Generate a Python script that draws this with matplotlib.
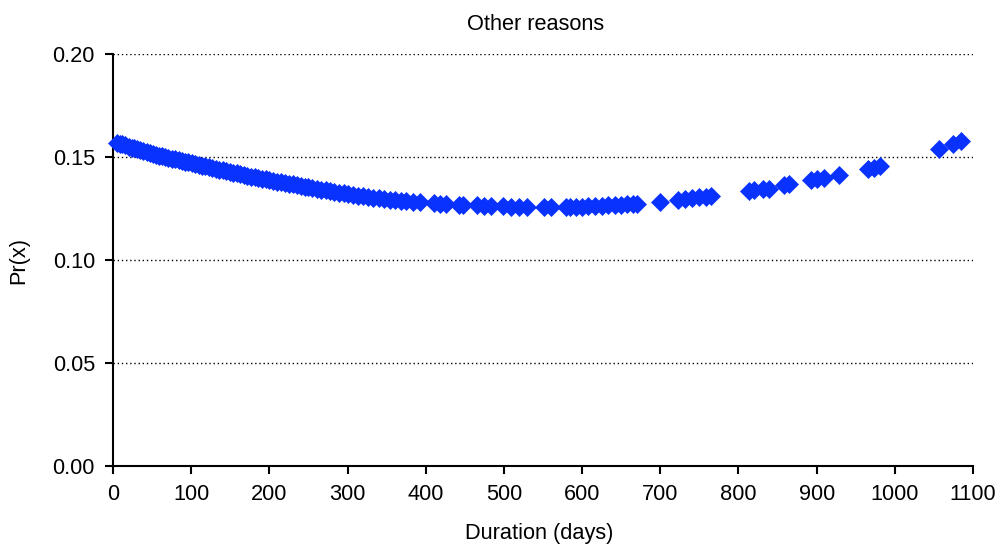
import matplotlib
matplotlib.use("Agg")
import matplotlib.pyplot as plt

duration = [5, 9, 12, 16, 20, 24, 27, 31, 35, 39, 43, 47, 51, 55, 59, 63, 67, 71, 75, 79,
            84, 88, 92, 96, 101, 105, 110, 114, 118, 123, 127, 132, 136, 141, 145, 150,
            154, 159, 163, 168, 172, 177, 182, 186, 191, 196, 200, 205, 210, 215, 220,
            225, 230, 235, 240, 245, 250, 255, 261, 266, 272, 277, 283, 289, 295, 301,
            307, 313, 320, 326, 333, 340, 347, 354, 361, 368,
            375, 384, 393, 410, 418, 426, 443, 448, 465, 474, 483, 499, 509, 519, 529,
            551, 560, 579, 585, 592, 600, 608, 617, 625, 633, 642, 650, 658, 665, 670,
            700, 723, 731, 740, 749, 758, 765, 813, 820, 832, 839, 858, 864, 893, 900,
            909, 928, 966, 973, 981, 1057, 1075, 1084]
prob = [0.1569, 0.1565, 0.1561, 0.1556, 0.1551, 0.1546, 0.1543, 0.1538, 0.1533, 0.1528,
        0.1523, 0.1519, 0.1514, 0.1510, 0.1506, 0.1503, 0.1499, 0.1496, 0.1492, 0.1488,
        0.1484, 0.1481, 0.1477, 0.1474, 0.1469, 0.1466, 0.1461, 0.1458, 0.1454, 0.1450,
        0.1446, 0.1442, 0.1438, 0.1435, 0.1431, 0.1427, 0.1424, 0.1420, 0.1417, 0.1413,
        0.1409, 0.1405, 0.1402, 0.1399, 0.1395, 0.1391, 0.1388, 0.1384, 0.1381, 0.1377,
        0.1374, 0.1370, 0.1367, 0.1363, 0.1360, 0.1356, 0.1353, 0.1350, 0.1346, 0.1342,
        0.1338, 0.1335, 0.1331, 0.1327, 0.1323, 0.1319, 0.1316, 0.1313, 0.1310, 0.1306,
        0.1303, 0.1300, 0.1296, 0.1293, 0.1290, 0.1288,
        0.1285, 0.1282, 0.1280, 0.1276, 0.1274, 0.1272, 0.1268, 0.1267, 0.1265, 0.1263,
        0.1262, 0.1260, 0.1259, 0.1258, 0.1258, 0.1257, 0.1257, 0.1257, 0.1257, 0.1258,
        0.1259, 0.1260, 0.1262, 0.1263, 0.1265, 0.1266, 0.1268, 0.1270, 0.1272, 0.1273,
        0.1284, 0.1293, 0.1297, 0.1300, 0.1304, 0.1308, 0.1311, 0.1335, 0.1338, 0.1343,
        0.1346, 0.1363, 0.1367, 0.1386, 0.1391, 0.1398, 0.1413, 0.1442, 0.1448, 0.1455,
        0.1540, 0.1565, 0.1578]

x_ticks = [0, 100, 200, 300, 400, 500, 600, 700, 800, 900, 1000, 1100]
y_ticks = [0.00, 0.05, 0.10, 0.15, 0.20]
y_tick_labels = ["0.00", "0.05", "0.10", "0.15", "0.20"]

plt.rcParams['font.family'] = ['Liberation Sans', 'DejaVu Sans']
FS = 15.7

fig = plt.figure(figsize=(10.05, 5.5), dpi=100)
ax = fig.add_axes([0.1124, 0.1527, 0.8558, 0.7491])

ax.plot(duration, prob, linestyle='none', marker='D', markersize=9,
        color='#0A32FF', markeredgecolor='#0A32FF', markeredgewidth=0.5, clip_on=False, zorder=3)

ax.set_xlim(0, 1100)
ax.set_ylim(0, 0.20)
ax.set_xticks(x_ticks)
ax.set_xticklabels([str(v) for v in x_ticks])
ax.set_yticks(y_ticks)
ax.set_yticklabels(y_tick_labels)

for v in y_ticks[1:]:
    ax.axhline(v, color='black', linestyle=(0, (1, 2)), linewidth=1.0, zorder=1)

for s in ['top', 'right']:
    ax.spines[s].set_visible(False)
for s in ['left', 'bottom']:
    ax.spines[s].set_linewidth(1.5)
    ax.spines[s].set_color('black')

ax.tick_params(axis='both', direction='out', length=6, width=1.5, labelsize=FS, pad=7)

ax.set_title("Other reasons", fontsize=FS, pad=17)
ax.title.set_x(0.491)
ax.set_xlabel("Duration (days)", fontsize=FS, labelpad=13)
ax.xaxis.label.set_x(0.496)
ax.set_ylabel("Pr(x)", fontsize=FS, labelpad=17)

fig.savefig("out.png", dpi=100)
